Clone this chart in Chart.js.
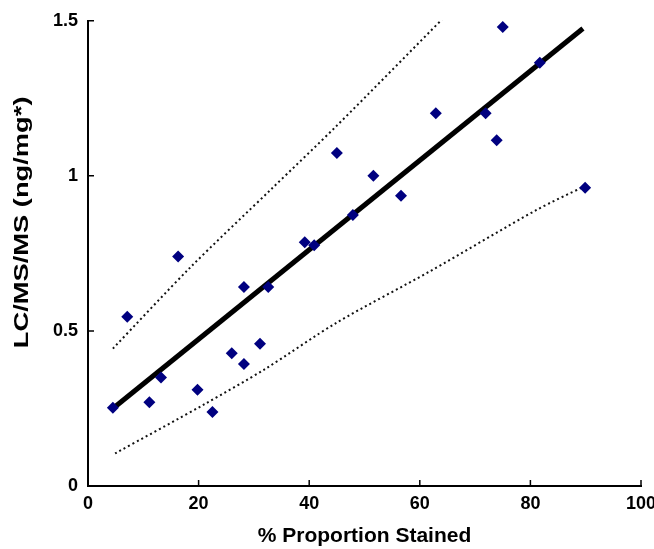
<!DOCTYPE html>
<html>
<head>
<meta charset="utf-8">
<script src="https://cdn.jsdelivr.net/npm/chart.js@4.4.1/dist/chart.umd.min.js"></script>
<style>
  html, body { margin: 0; padding: 0; background: #fff; }
  #wrap { width: 654px; height: 549px; }
</style>
</head>
<body>
<div id="wrap"><canvas id="chart"></canvas></div>
<script>
// --- data ---
const stainedPct = [4.5, 7.1, 11.1, 13.2, 16.3, 19.8, 22.5, 26.0, 28.2, 28.2, 31.1, 32.6,
                    39.2, 40.9, 45.0, 47.9, 51.6, 56.6, 62.9, 71.9, 73.9, 75.0, 81.7, 89.9];
const lcmsValues = [0.252, 0.546, 0.270, 0.350, 0.740, 0.310, 0.239, 0.428, 0.393, 0.642, 0.459, 0.642,
                    0.786, 0.776, 1.074, 0.874, 1.000, 0.936, 1.202, 1.202, 1.115, 1.480, 1.365, 0.962];

// fitted line and bands (end/bend points)
const fitX = [4.5, 89.5];
const fitY = [0.25, 1.475];
const upperX = [4.5, 18.4, 33.3, 45.0, 64.6];
const upperY = [0.443, 0.703, 0.96, 1.162, 1.515];
const lowerX = [4.9, 21.2, 32.0, 45.0, 61.8, 81.1, 89.6];
const lowerY = [0.105, 0.265, 0.377, 0.527, 0.692, 0.89, 0.965];

const xTicks = [0, 20, 40, 60, 80, 100];
const yTicks = [0, 0.5, 1, 1.5];
const yTitle = 'LC/MS/MS (ng/mg*)';

const toPts = (xs, ys) => xs.map((x, i) => ({ x: x, y: ys[i] }));

const fontFamily = '"Liberation Sans", Arial, sans-serif';

// ticks drawn inward from the axis lines, plus the (tall) y title
const axisExtras = {
    id: 'axisExtras',
    afterDraw(chart) {
        const { ctx, scales: { x, y }, chartArea } = chart;
        ctx.save();
        ctx.strokeStyle = '#000';
        ctx.lineWidth = 1.5;
        ctx.beginPath();
        xTicks.forEach(v => {
            const px = x.getPixelForValue(v);
            ctx.moveTo(px, chartArea.bottom);
            ctx.lineTo(px, chartArea.bottom - 6);
        });
        yTicks.forEach(v => {
            const py = y.getPixelForValue(v);
            ctx.moveTo(chartArea.left, py);
            ctx.lineTo(chartArea.left + 6, py);
        });
        ctx.stroke();

        // y title: the reference text is stretched along its length
        ctx.translate(22, y.getPixelForValue(0.85));
        ctx.rotate(-Math.PI / 2);
        ctx.scale(1.3, 1);
        ctx.fillStyle = '#000';
        ctx.font = 'bold 21px ' + fontFamily;
        ctx.textAlign = 'center';
        ctx.textBaseline = 'middle';
        ctx.fillText(yTitle, 0, 0);
        ctx.restore();
    }
};

new Chart(document.getElementById('chart'), {
    type: 'scatter',
    data: {
        datasets: [
            {
                label: 'Samples',
                data: toPts(stainedPct, lcmsValues),
                pointStyle: 'rectRot',
                pointRadius: 6,
                pointHoverRadius: 6,
                backgroundColor: '#000080',
                borderColor: '#000080',
                borderWidth: 0,
                order: 0
            },
            {
                label: 'Fit',
                data: toPts(fitX, fitY),
                showLine: true,
                borderColor: '#000',
                borderWidth: 5,
                pointRadius: 0,
                order: 1
            },
            {
                label: 'Upper',
                data: toPts(upperX, upperY),
                showLine: true,
                borderColor: '#111',
                borderWidth: 2,
                borderDash: [2, 3],
                tension: 0.3,
                pointRadius: 0,
                order: 2
            },
            {
                label: 'Lower',
                data: toPts(lowerX, lowerY),
                showLine: true,
                borderColor: '#111',
                borderWidth: 2,
                borderDash: [2, 3],
                tension: 0.3,
                pointRadius: 0,
                order: 2
            }
        ]
    },
    options: {
        responsive: true,
        maintainAspectRatio: false,
        animation: false,
        layout: { padding: { top: 18, right: 13, left: 0, bottom: 0 } },
        plugins: {
            legend: { display: false },
            tooltip: { enabled: false }
        },
        scales: {
            x: {
                type: 'linear',
                min: 0,
                max: 100,
                afterBuildTicks: s => { s.ticks = xTicks.map(v => ({ value: v })); },
                afterFit: s => { s.height = 63; s.paddingRight = 0; s.paddingLeft = 0; },
                grid: { display: false, drawTicks: false },
                border: { display: true, color: '#000', width: 2 },
                ticks: {
                    color: '#000',
                    padding: 7,
                    font: { family: fontFamily, size: 18, weight: 'bold' }
                },
                title: {
                    display: true,
                    text: '% Proportion Stained',
                    color: '#000',
                    padding: { top: 9, bottom: 0 },
                    font: { family: fontFamily, size: 21, weight: 'bold' }
                }
            },
            y: {
                type: 'linear',
                min: 0,
                max: 1.5,
                afterBuildTicks: s => { s.ticks = yTicks.map(v => ({ value: v })); },
                afterFit: s => { s.width = 88; },
                grid: { display: false, drawTicks: false },
                border: { display: true, color: '#000', width: 2 },
                ticks: {
                    color: '#000',
                    padding: 10,
                    callback: v => String(v),
                    font: { family: fontFamily, size: 18, weight: 'bold' }
                },
                title: { display: false }
            }
        }
    },
    plugins: [axisExtras]
});
</script>
</body>
</html>
